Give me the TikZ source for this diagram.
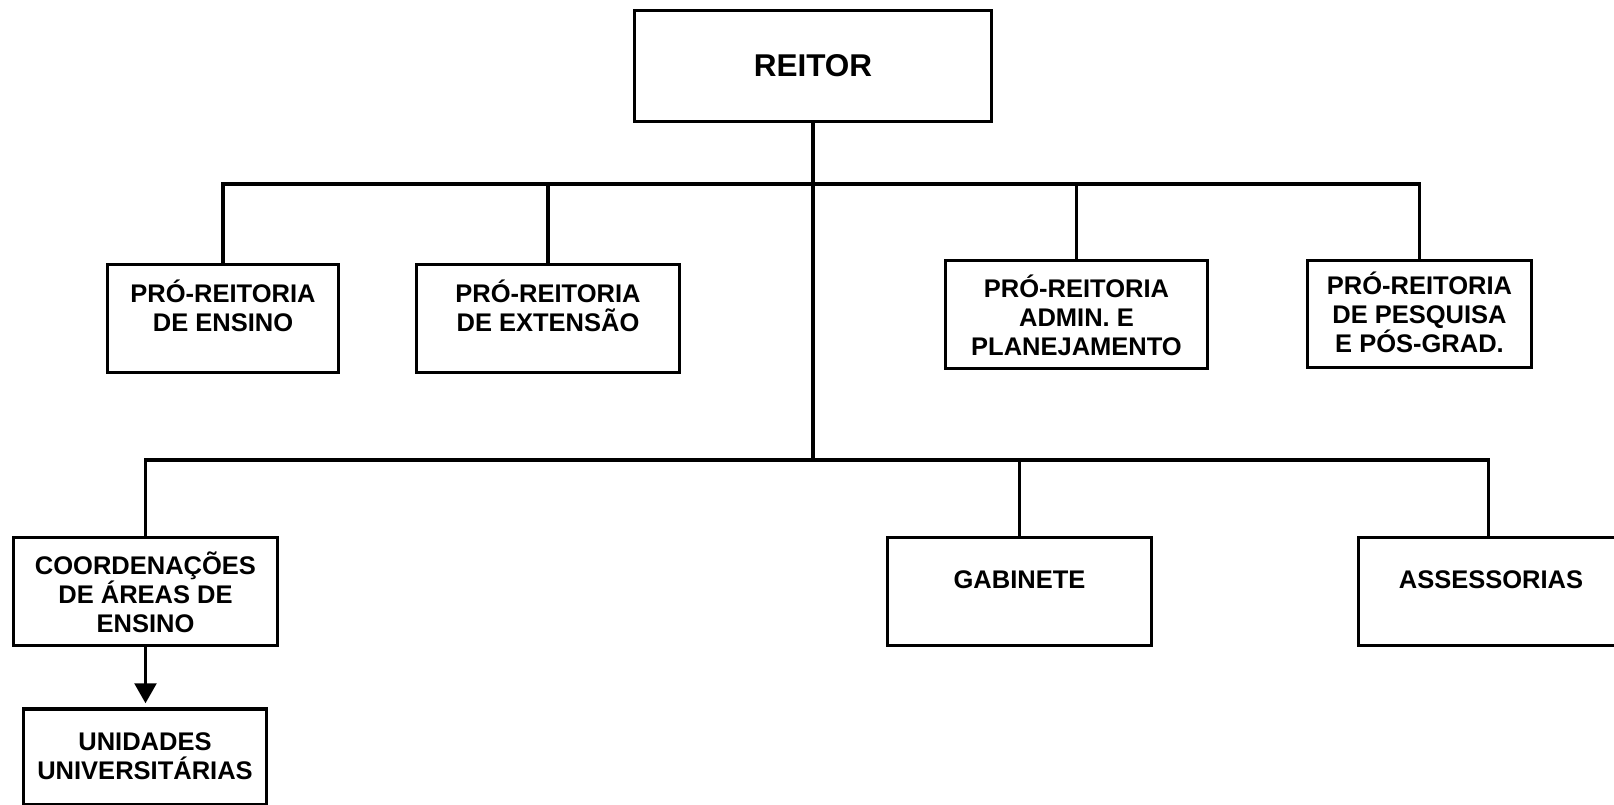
\documentclass[tikz,border=0pt]{standalone}
\usepackage{fontspec}
\setmainfont{Liberation Sans}
\usepackage{tikz}
\usetikzlibrary{arrows.meta, positioning}
\tikzset{orgbox/.style={rectangle, draw=black, line width=3.5pt, inner sep=0pt},
orgtext/.style={align=center, font=\fontsize{25.5pt}{29pt}\selectfont\bfseries, inner sep=0pt}}

\begin{document}
\begin{tikzpicture}[
        x=1pt, y=-1pt,
        line join=miter,
        link/.style={line width=3.5pt},
        arrowlink/.style={line width=2.5pt, -{Triangle[width=22pt, length=20pt]}, shorten >=4pt}
    ]
        \useasboundingbox (0, 0) rectangle (1614, 805);
        % Boxes
        \node[orgbox, minimum width=357pt, minimum height=111pt] (reitor) at (813, 66) {};
        \node[orgbox, minimum width=231pt, minimum height=108pt] (ensino) at (223, 318.5) {};
        \node[orgbox, minimum width=263pt, minimum height=108pt] (extensao) at (548, 318.5) {};
        \node[orgbox, minimum width=262pt, minimum height=108pt] (admin) at (1076.5, 314.5) {};
        \node[orgbox, minimum width=224pt, minimum height=107pt] (pesquisa) at (1419.5, 314) {};
        \node[orgbox, minimum width=264pt, minimum height=108pt] (coord) at (145.5, 591.5) {};
        \node[orgbox, minimum width=264pt, minimum height=108pt] (gabinete) at (1019.5, 591.5) {};
        \node[orgbox, minimum width=260pt, minimum height=108pt] (assessorias) at (1488.5, 591.5) {};
        \node[orgbox, minimum width=243pt, minimum height=96pt] (unidades) at (145, 757) {};
        % Texts
        \node[orgtext, font=\fontsize{31.5pt}{35pt}\selectfont\bfseries] (reitortxt) at (813, 66) {REITOR};
        \node[orgtext] (ensinotxt) at (223, 306) {PRÓ-REITORIA\\DE ENSINO};
        \node[orgtext] (extensaotxt) at (548, 306) {PRÓ-REITORIA\\DE EXTENSÃO};
        \node[orgtext] (admintxt) at (1076.5, 315.5) {PRÓ-REITORIA\\ADMIN. E\\PLANEJAMENTO};
        \node[orgtext] (pesquisatxt) at (1419.5, 312.5) {PRÓ-REITORIA\\DE PESQUISA\\E PÓS-GRAD.};
        \node[orgtext] (coordtxt) at (145.5, 592.5) {COORDENAÇÕES\\DE ÁREAS DE\\ENSINO};
        \node[orgtext] (gabinetetxt) at (1019.5, 580) {GABINETE};
        \node[orgtext] (assessoriastxt) at (1491, 580) {ASSESSORIAS};
        \node[orgtext] (unidadestxt) at (145, 756) {UNIDADES\\UNIVERSITÁRIAS};
        % Lines
        \coordinate (topbus) at (813, 184);
        \coordinate (lowbus) at (813, 460);
        \draw[link] (reitor.south) -- (lowbus);
        \draw[link] (ensino.north) |- (pesquisa.north |- topbus) -- (pesquisa.north);
        \draw[link] (extensao.north) -- (extensao.north |- topbus);
        \draw[link] (admin.north) -- (admin.north |- topbus);
        \draw[link] (coord.north) |- (assessorias.north |- lowbus) -- (assessorias.north);
        \draw[link] (gabinete.north) -- (gabinete.north |- lowbus);
        \draw[arrowlink] (coord.south) -- (coord.south |- unidades.north);
    \end{tikzpicture}
\end{document}
